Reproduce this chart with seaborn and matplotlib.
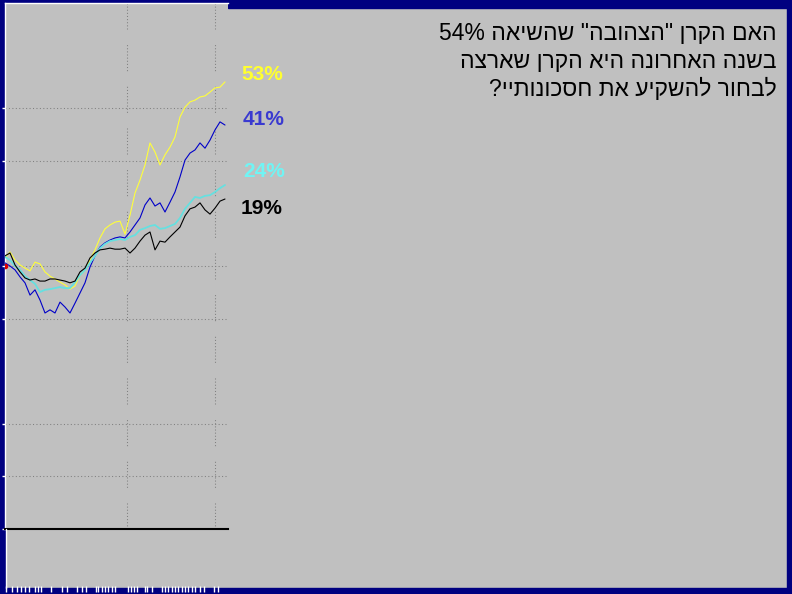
import re
import numpy as np
import pandas as pd
import matplotlib
matplotlib.use("Agg")
import matplotlib.pyplot as plt
from matplotlib.patches import Rectangle
from matplotlib.lines import Line2D
import seaborn as sns

# cumulative return (%) of each fund, one reading every ~5 px of the original chart
yellow = [2.3, 4.0, 1.7, 0.3, -0.6, -1.4, 1.1, 0.6, -1.7, -2.9, -3.7, -4.6, -5.4, -6.6, -5.7,
          -2.6, -1.1, 1.7, 4.6, 8.0, 10.6, 11.7, 12.5, 12.8, 9.1, 14.5, 20.8, 24.5, 28.8, 35.1,
          32.5, 28.8, 31.7, 33.9, 36.8, 42.5, 45.3, 46.8, 47.3, 48.2, 48.5, 49.6, 50.8, 51.0, 52.5]
blue = [0.9, 0.0, -1.1, -3.1, -4.8, -8.3, -6.8, -9.7, -13.4, -12.5, -13.4, -10.3, -11.7, -13.4, -10.6,
        -7.7, -4.8, -0.3, 2.9, 5.4, 6.6, 7.4, 8.0, 8.3, 8.0, 9.7, 11.7, 13.7, 17.4, 19.4,
        17.1, 18.0, 15.4, 18.2, 21.1, 25.4, 30.2, 32.2, 33.1, 35.1, 33.6, 35.9, 38.8, 41.1, 40.2]
cyan = [2.6, 1.7, 0.0, -1.1, -2.9, -4.0, -5.1, -7.4, -6.8, -6.6, -6.3, -6.0, -6.3, -6.3, -4.6,
        -2.6, -1.1, 0.9, 2.9, 5.1, 6.3, 7.1, 7.4, 7.7, 7.4, 8.3, 8.8, 10.3, 10.8, 11.4,
        11.7, 10.6, 10.8, 11.4, 12.0, 13.7, 16.3, 18.0, 19.7, 19.4, 20.0, 20.2, 21.1, 22.2, 23.1]
black = [2.9, 3.7, 0.3, -1.7, -3.4, -4.0, -3.7, -4.3, -4.3, -3.7, -3.7, -4.0, -4.3, -4.8, -4.3,
         -1.7, -0.6, 2.3, 3.7, 4.6, 4.8, 5.1, 4.8, 4.8, 5.1, 3.7, 5.1, 7.1, 8.8, 9.7,
         4.6, 7.1, 6.8, 8.3, 9.7, 11.1, 14.3, 16.3, 16.8, 18.0, 16.0, 14.8, 16.5, 18.5, 19.1]

end_labels = ["53%", "41%", "24%", "19%"]
grid_y = [45, 30, 0, -15, -45, -60, -75]
grid_x = [24.4, 42.0]
date_ticks = [0.2, 1.4, 2.4, 3.2, 4.0, 4.8, 6.0, 6.6, 7.2, 9.2, 11.4, 12.4, 14.4, 15.4, 16.2,
              18.2, 18.6, 19.4, 20.0, 20.6, 21.4, 22.0, 24.6, 25.2, 25.8, 26.4, 28.0, 28.4, 29.4,
              31.4, 32.0, 32.6, 33.4, 34.0, 34.6, 35.4, 36.0, 36.6, 37.4, 38.0, 39.0, 39.8, 41.8, 42.6]

question = ['האם הקרן "הצהובה" שהשיאה 54%',
            'בשנה האחרונה היא הקרן שארצה',
            'לבחור להשקיע את חסכונותיי?']


def visual(s):
    # matplotlib has no bidi support: reverse for RTL, keep number runs readable
    r = s[::-1]
    return re.sub(r'[0-9%]+', lambda m: m.group(0)[::-1], r)


sns.set_style("white")
plt.rcParams['font.family'] = ['Liberation Sans', 'DejaVu Sans']

W, H = 792, 594
NAVY = '#000080'
GRAY = '#C0C0C0'

fig = plt.figure(figsize=(W / 100, H / 100), dpi=100, facecolor=GRAY)

# navy frame around the slide (drawn beneath the axes)
for x0, y0, w, h in [(0, 0, 5, H), (787, 0, 5, H), (0, 588, W, 6), (0, 0, 228, 3), (228, 0, W - 228, 8)]:
    fig.patches.append(Rectangle((x0 / W, 1 - (y0 + h) / H), w / W, h / H,
                                 transform=fig.transFigure, color=NAVY, zorder=-1))

ax = fig.add_axes([5 / W, 1 - 529 / H, 223 / W, 526 / H])
ax.set_facecolor(GRAY)

funds = pd.DataFrame({
    'day': np.tile(np.arange(len(yellow)), 4),
    'ret': yellow + blue + cyan + black,
    'fund': ['yellow'] * len(yellow) + ['blue'] * len(blue) + ['cyan'] * len(cyan) + ['black'] * len(black),
})
styles = {'yellow': ('#FFFF3A', 0.8), 'blue': ('#0000C8', 0.8),
          'cyan': ('#66E0E0', 1.3), 'black': ('#000000', 0.8)}
for name, (col, lw) in styles.items():
    sns.lineplot(data=funds[funds['fund'] == name], x='day', y='ret', color=col,
                 linewidth=lw, estimator=None, ax=ax, legend=False, zorder=3)

ax.plot(0, 0, marker='o', color='#E00000', markersize=3, zorder=4)

ax.set_xlim(0, 44.6)
ax.set_ylim(-75, 75)
ax.set_xlabel('')
ax.set_ylabel('')
ax.set_yticks(grid_y)
ax.set_xticks(grid_x)
ax.set_xticklabels([])
ax.set_yticklabels([])
ax.tick_params(axis='y', left=True, color='white', length=2.5, width=1, direction='out')
ax.tick_params(axis='x', bottom=False, length=0)
ax.grid(axis='y', color='#808080', linewidth=0.75, linestyle=(0, (1, 2.3)))
ax.grid(axis='x', color='#808080', linewidth=0.75, linestyle=(0, [1, 2] * 8 + [1, 15]))
ax.set_axisbelow(True)
for side in ['left', 'top']:
    ax.spines[side].set_color('white')
    ax.spines[side].set_linewidth(1)
ax.spines['right'].set_visible(False)
ax.spines['bottom'].set_color('black')
ax.spines['bottom'].set_linewidth(1.5)

fig.add_artist(Line2D([5.5 / W, 5.5 / W], [1 - 588 / H, 1 - 529 / H], color='white', linewidth=1))

# end-of-line labels
label_cols = ['#FFFF30', '#3A3AD0', '#70F4F4', '#000000']
offsets = [(16, 7), (18, 6), (18, 13), (16, -9)]
for series, text, col, (dx, dy) in zip([yellow, blue, cyan, black], end_labels, label_cols, offsets):
    ax.annotate(text, xy=(len(series) - 1, series[-1]), xytext=(dx, dy),
                textcoords='offset pixels', color=col, fontsize=15, fontweight='bold',
                ha='left', va='center', annotation_clip=False)

# date ticks along the bottom edge
axb = fig.add_axes([5 / W, 2 / H, 223 / W, 6 / H])
axb.set_xlim(0, 44.6)
axb.patch.set_alpha(0)
for s in axb.spines.values():
    s.set_visible(False)
axb.set_yticks([])
axb.set_xticks(date_ticks)
axb.set_xticklabels([])
axb.tick_params(axis='x', color='white', length=4.5, width=1, direction='in', bottom=True)

for i, line in enumerate(question):
    fig.text(777 / W, 1 - (40 + 28 * i) / H, visual(line), ha='right', va='baseline',
             fontsize=16.5, color='black')

fig.savefig('out.png', dpi=100, facecolor=fig.get_facecolor())
